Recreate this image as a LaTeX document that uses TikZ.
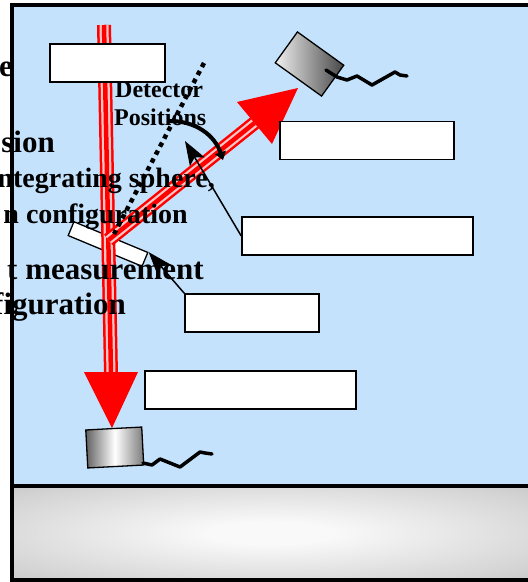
\documentclass[tikz,border=0pt]{standalone}
\usepackage{fontspec}
\setmainfont{Liberation Serif}
\usetikzlibrary{arrows.meta,calc}

\definecolor{panelblue}{RGB}{196,226,252}
\definecolor{beampale}{RGB}{255,196,196}
\definecolor{benchgray}{RGB}{188,188,188}
\definecolor{benchmid}{RGB}{212,212,212}
\definecolor{benchlight}{RGB}{249,249,249}

% bright centre fading to grey at the edges of the optical bench
\pgfdeclareradialshading{benchglow}{\pgfpoint{0bp}{0bp}}{%
  color(0bp)=(benchlight); color(6bp)=(benchlight); color(30bp)=(benchmid);
  color(44bp)=(benchgray); color(50bp)=(benchgray)}

\tikzset{
  beam/.style={draw=red, line width=14pt,
    postaction={draw=beampale, line width=9pt},
    postaction={draw=red, line width=4.5pt}},
  labelbox/.style={draw=black, fill=white, line width=1.5pt, inner sep=0pt,
    minimum height=38pt},
  mirrorplate/.style={draw=black, fill=white, line width=1.3pt, inner sep=0pt,
    minimum width=80pt, minimum height=15pt},
  detector/.style={draw=black, line width=1.3pt, inner sep=0pt},
  cable/.style={line width=3.5pt, line join=round, line cap=round},
  pointer/.style={line width=1.5pt, -{Stealth[length=24pt,width=17pt,inset=5pt]}},
  guideline/.style={line width=4.5pt, dash pattern=on 4.5pt off 4.5pt},
  swing/.style={line width=4pt, -{Triangle[length=8pt,width=11pt]}},
  bigtext/.style={font=\bfseries\fontsize{31}{36}\selectfont, inner sep=0pt, anchor=base east},
  midtext/.style={font=\bfseries\fontsize{28}{33}\selectfont, inner sep=0pt, anchor=base east},
  smalltext/.style={font=\bfseries\fontsize{24}{28}\selectfont, inner sep=0pt, anchor=base west},
}

\begin{document}
\begin{tikzpicture}[x=1pt, y=-1pt]
  \useasboundingbox (0,0) rectangle (528,582);
  \clip (0,0) rectangle (528,582);

  % sample chamber
  \fill[panelblue] (12,5) rectangle (545,486);
  \draw[line width=4pt] (12,486) -- (12,5) -- (545,5);

  % optical bench
  \shade[shading=benchglow] (12,486) rectangle (528,580);
  \draw[line width=4pt] (12,486) rectangle (545,580);

  % sample plate
  \node[mirrorplate, rotate=-22.6] (mirror) at (108,244) {};

  % incident / transmitted beam and reflected beam
  \coordinate (src) at (104,25);
  \coordinate (hit) at (108.5,240);
  \coordinate (downend) at (111,374);
  \coordinate (upend) at (254.5,123);
  \draw[beam] (src) -- (downend);
  \draw[beam] (hit) -- (upend);
  \fill[red] (84,372) -- (138,372) -- (112,428) -- cycle;
  \fill[red] (237,102) -- (272,144) -- (298,88) -- cycle;

  % label boxes
  \node[labelbox, minimum width=115pt] (box1) at (107.5,63) {};
  \node[labelbox, minimum width=174pt] (box3) at (367,140.5) {};
  \node[labelbox, minimum width=231pt] (box4) at (357.5,236) {};
  \node[labelbox, minimum width=134pt] (box5) at (252,313) {};
  \node[labelbox, minimum width=211pt] (box6) at (250.5,390) {};

  % detector swing axis and swing direction
  \draw[guideline] (204,63) -- (114,234);
  \draw[swing] (167,121) .. controls (196,120) and (215,136) .. (223,160);

  % pointers
  \coordinate (tipA) at (185,141);
  \draw[pointer] (box4.west) -- (tipA);
  \draw[pointer] (box5.north west) -- (mirror.north east);

  % detectors with their cables
  \node[detector, rotate=-35.7, minimum width=57pt, minimum height=38pt,
        left color=black!6, right color=black!72] (det1) at (309.5,64) {};
  \node[detector, rotate=3, minimum width=56pt, minimum height=38pt,
        left color=black!62, right color=black!52, middle color=white] (det2) at (114.75,447.5) {};
  \draw[cable] (326,70) -- (337,77) -- (347,80) -- (357,76) -- (372,85)
               -- (395,72) -- (400,75) -- (407,76);
  \draw[cable] (143,463) -- (152,465) -- (160,459) -- (180,467) -- (200,452)
               -- (205,453) -- (212,454);

  % texts
  \node[smalltext] (tdet) at (115,97.7) {Detector};
  \node[smalltext] (tpos) at (114,125) {Positions};
  \node[bigtext] (t1) at (13,76) {e};
  \node[bigtext] (t2) at (55,152) {sion};
  \node[midtext] (t3) at (215,187) {ntegrating sphere,};
  \node[midtext] (t4) at (188,223) {n configuration};
  \node[bigtext] (t5) at (204,279) {t measurement};
  \node[bigtext] (t6) at (126,314) {figuration};
\end{tikzpicture}
\end{document}
